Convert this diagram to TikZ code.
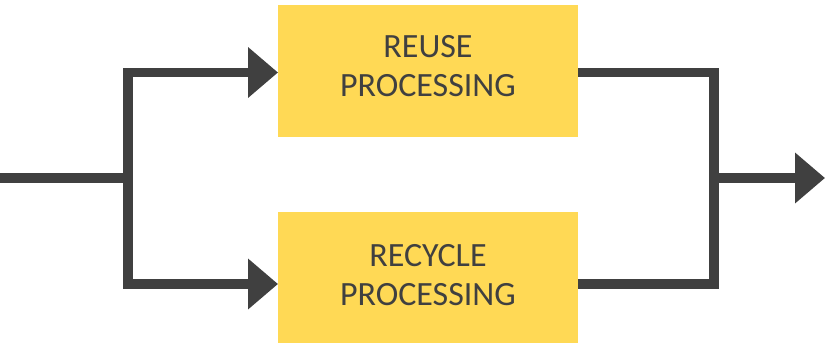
\documentclass[tikz,border=0pt]{standalone}
\usepackage{fontspec}
\setmainfont{Carlito}
\usetikzlibrary{arrows.meta,calc}
\definecolor{boxyellow}{HTML}{FFD955}
\definecolor{linegray}{HTML}{404040}
\begin{document}
\begin{tikzpicture}[x=0.75pt,y=-0.75pt,
  procbox/.style={fill=boxyellow,draw=none,minimum width=300*0.75pt,inner sep=0pt},
  proclabel/.style={text=linegray,font=\fontsize{25.5pt}{29.25pt}\selectfont,align=center,inner sep=0pt},
  conn/.style={draw=linegray,line width=7.3pt},
  tip/.style={-{Triangle[length=22.5pt,width=36.75pt]}},
  dtip/.style={{Triangle[length=22.5pt,width=36.75pt]}-{Triangle[length=22.5pt,width=36.75pt]}}]
\useasboundingbox (0,0) rectangle (825,343);
% boxes
\node[procbox,minimum height=132*0.75pt] (reuse) at (428,71) {};
\node[procbox,minimum height=131*0.75pt] (recycle) at (428,277.5) {};
\node[proclabel] (reusetxt) at (428,66.5) {REUSE\\PROCESSING};
\node[proclabel] (recycletxt) at (428,275.5) {RECYCLE\\PROCESSING};
% junction coordinates
\coordinate (in) at (0,178);
\coordinate (split) at (128,178);
\coordinate (merge) at (714,178);
\coordinate (out) at (825,178);
\coordinate (rein) at (278,72.5);
\coordinate (rcin) at (278,284);
\coordinate (reout) at (578,72.5);
\coordinate (rcout) at (578,284);
% connectors
\draw[conn] (in) -- (split);
\draw[conn,dtip] (rein) -| (split) |- (rcin);
\draw[conn] (reout) -| (merge) |- (rcout);
\draw[conn,tip] (merge) -- (out);
\end{tikzpicture}
\end{document}
